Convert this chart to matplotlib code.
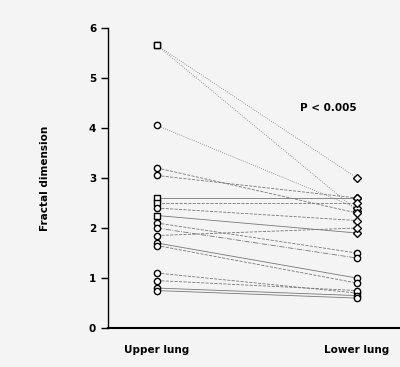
import matplotlib.pyplot as plt
import numpy as np

groups = ["Upper lung", "Lower lung"]
upper = [5.65, 5.65, 4.05, 3.2, 3.05, 2.6, 2.5, 2.4, 2.25, 2.1, 2.0, 1.85, 1.7, 1.65, 1.1, 0.95, 0.8, 0.75]
lower = [3.0, 2.35, 2.4, 2.3, 2.6, 2.6, 2.5, 2.15, 1.9, 1.5, 1.4, 2.0, 1.0, 0.9, 0.7, 0.75, 0.65, 0.6]
markers_up = ["s", "s", "o", "o", "o", "s", "s", "o", "s", "o", "o", "o", "o", "o", "o", "o", "o", "o"]
styles = [":", ":", ":", "--", "--", "-", "--", "--", "-", "--", "-.", "--", "-", "--", "--", "--", "-", "-"]

plt.rcParams["font.weight"] = "bold"
fig = plt.figure(figsize=(4, 3.67), dpi=100, facecolor="#f4f4f4")
ax = fig.add_axes([0.27, 0.106, 0.73, 0.818])
ax.set_facecolor("#f4f4f4")

for u, l, m, ls in zip(upper, lower, markers_up, styles):
    ax.plot([0, 1], [u, l], color="#777777", linestyle=ls, linewidth=0.6, zorder=1)
    ax.plot(0, u, marker=m, markersize=4.5, markerfacecolor="white",
            markeredgecolor="black", markeredgewidth=1.0, zorder=3)
    ax.plot(1, l, marker="D" if l > 1.8 else "o", markersize=4.5, markerfacecolor="white",
            markeredgecolor="black", markeredgewidth=1.0, zorder=3)

ax.text(0.715, 4.4, "P < 0.005", fontsize=7.5, ha="left", va="center")

ax.set_xlim(-0.245, 1.215)
ax.set_ylim(0, 6)
ax.set_yticks(range(7))
ax.set_xticks([0, 1])
ax.set_xticklabels(groups, fontsize=7.5)
ax.tick_params(axis="x", length=0, pad=12)
ax.tick_params(axis="y", direction="out", length=5, labelsize=7.5, width=1)
ax.set_ylabel("Fractal dimension", fontsize=7.5, fontweight="bold", labelpad=28)
ax.spines["top"].set_visible(False)
ax.spines["right"].set_visible(False)
ax.spines["left"].set_linewidth(1.0)
ax.spines["bottom"].set_linewidth(1.5)

plt.savefig("out.png", dpi=100, facecolor=fig.get_facecolor())
